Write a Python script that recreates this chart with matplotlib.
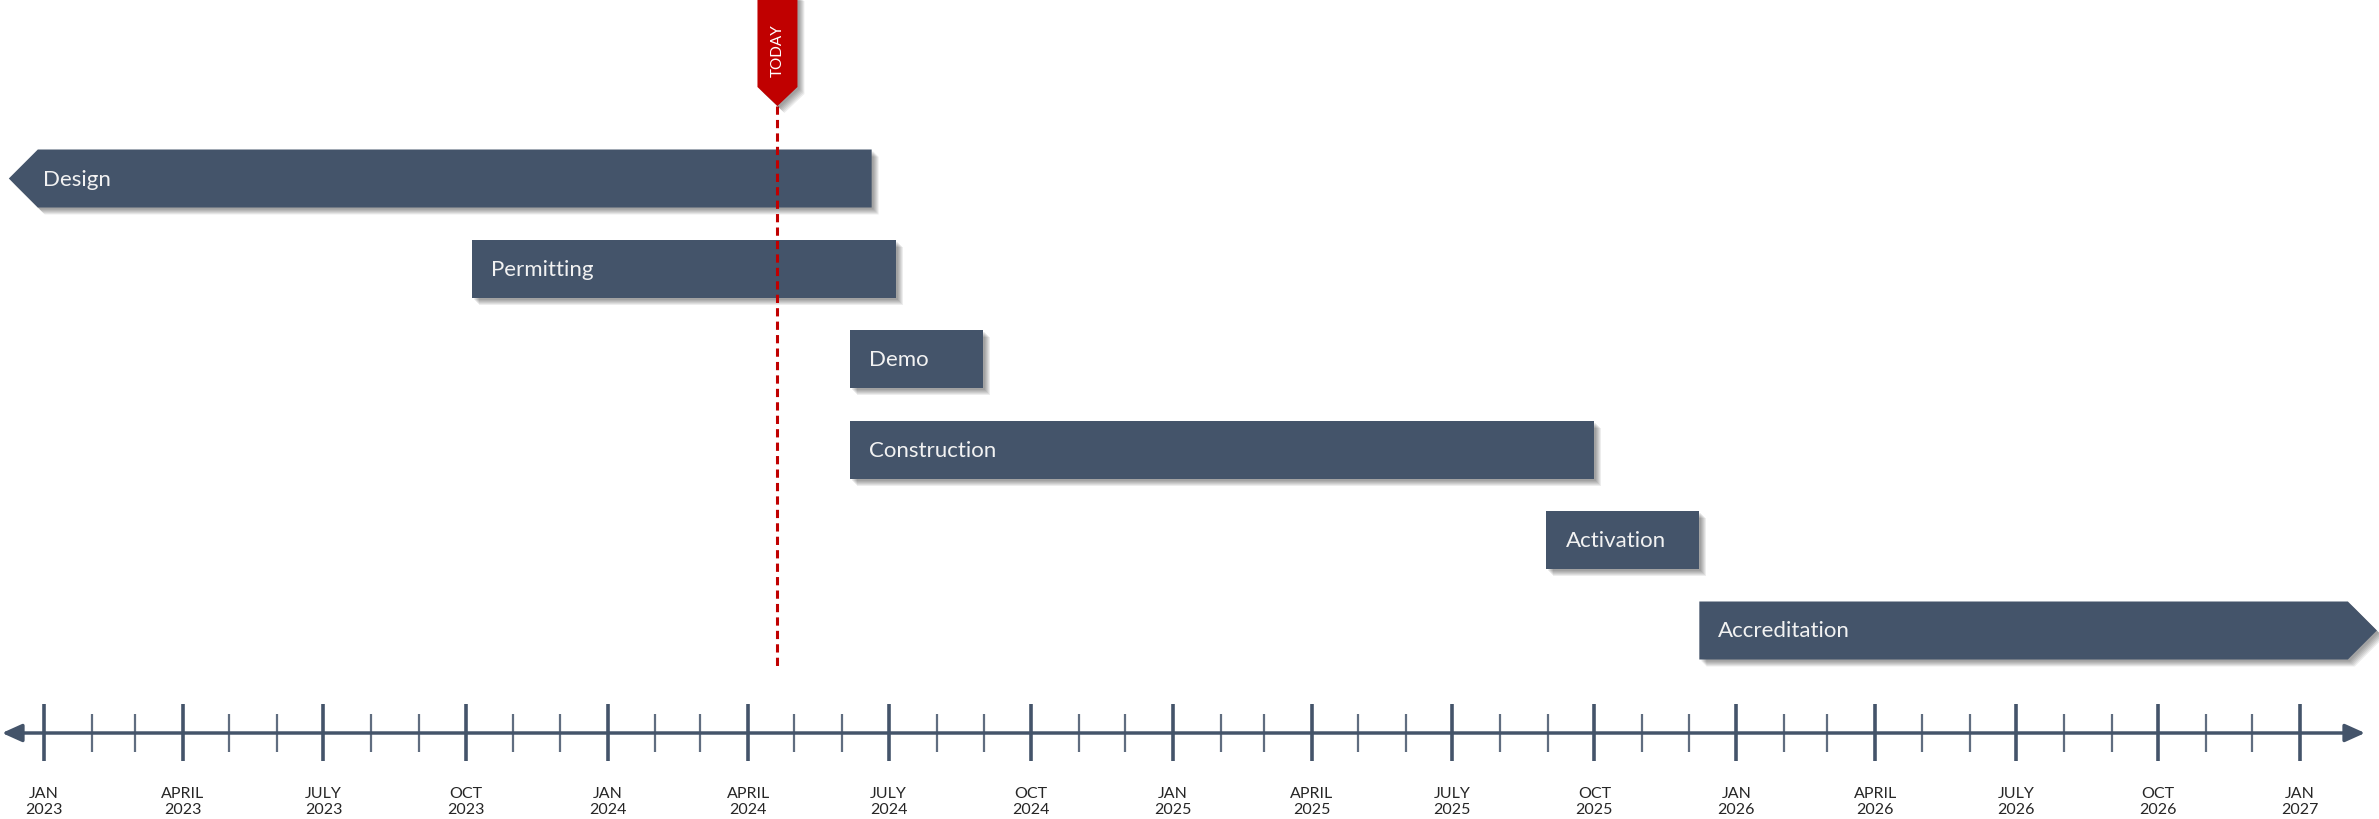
import matplotlib
matplotlib.use("Agg")
import matplotlib.pyplot as plt
import matplotlib.dates as mdates
import pandas as pd
from matplotlib.patches import Polygon, FancyArrowPatch
from matplotlib import transforms

plt.rcParams['font.family'] = ['Lato', 'DejaVu Sans']

# data
tasks = ['Design', 'Permitting', 'Demo', 'Construction', 'Activation', 'Accreditation']
starts = ['2022-12-28', '2023-10-05', '2024-06-06', '2024-06-06', '2025-08-31', '2025-12-08']
ends = ['2024-06-20', '2024-07-06', '2024-08-31', '2025-10-01', '2025-12-08', '2027-02-01']
arrows = ['left', None, None, None, None, 'right']
today = '2024-04-20'
month_names = {1: 'JAN', 4: 'APRIL', 7: 'JULY', 10: 'OCT'}
months = pd.date_range('2023-01-01', '2027-01-01', freq='MS')

BAR = '#44546A'
RED = '#C00000'

fig = plt.figure(figsize=(23.79, 8.2), dpi=100)
ax = fig.add_axes([0, 0, 1, 1])

x0 = mdates.date2num(pd.Timestamp('2023-01-01'))
x1 = mdates.date2num(pd.Timestamp('2027-01-01'))
ppd = 2256 / (x1 - x0)  # pixels per day
ax.set_xlim(x0 - 44 / ppd, x1 + 79 / ppd)
ax.set_ylim(820, 0)
ax.axis('off')


def shadow_poly(verts, z):
    for i, off in enumerate([2, 3, 4, 5, 6, 7]):
        tr = ax.transData + transforms.ScaledTranslation(off / 100, -off / 100, fig.dpi_scale_trans)
        ax.add_patch(Polygon(verts, closed=True, facecolor='#000000', edgecolor='none',
                             alpha=0.07, transform=tr, zorder=z - 0.5))


row_y = [179.5 + 90.4 * i for i in range(len(tasks))]
h = 58
tip = 29 / ppd
for name, s, e, arr, y in zip(tasks, starts, ends, arrows, row_y):
    s = mdates.date2num(pd.Timestamp(s))
    e = mdates.date2num(pd.Timestamp(e))
    top, bot = y - h / 2, y + h / 2
    if arr == 'left':
        verts = [(s - tip, y), (s, top), (e, top), (e, bot), (s, bot)]
        tx = s - tip + 34 / ppd
    elif arr == 'right':
        verts = [(s, top), (e, top), (e + tip, y), (e, bot), (s, bot)]
        tx = s + 19 / ppd
    else:
        verts = [(s, top), (e, top), (e, bot), (s, bot)]
        tx = s + 19 / ppd
    shadow_poly(verts, 3)
    ax.add_patch(Polygon(verts, closed=True, facecolor=BAR, edgecolor='none', zorder=3))
    ax.text(tx, y, name, color='#F2F2F2', fontsize=16, va='center', ha='left', zorder=4)

# today marker
t = mdates.date2num(pd.Timestamp(today))
hw = 20 / ppd
flag = [(t - hw, -5), (t + hw, -5), (t + hw, 88), (t, 107), (t - hw, 88)]
shadow_poly(flag, 6)
ax.add_patch(Polygon(flag, closed=True, facecolor=RED, edgecolor='none', zorder=6))
ax.text(t, 51, 'TODAY', rotation=90, color='white', fontsize=11, ha='center', va='center', zorder=7)
ax.plot([t, t], [107, 668], color=RED, lw=2.2, dashes=(2.7, 1.7), zorder=5)

# timeline axis
ax_y = 734
ax.add_patch(FancyArrowPatch((x0 - 42 / ppd, ax_y), (x1 + 65 / ppd, ax_y),
                             arrowstyle='<|-|>,head_length=1.0,head_width=0.45',
                             mutation_scale=12, lw=2.5, color=BAR, shrinkA=0, shrinkB=0, zorder=2))
for m in months:
    xm = mdates.date2num(m)
    if m.month in month_names:
        ax.vlines(xm, 705, 762, color=BAR, lw=2.6, zorder=2)
        ax.text(xm, 802, '%s\n%d' % (month_names[m.month], m.year), ha='center', va='center',
                fontsize=11.5, color='#262626', linespacing=1.2)
    else:
        ax.vlines(xm, 715, 753, color=BAR, lw=1.6, alpha=0.85, zorder=2)

fig.savefig('out.png', dpi=100)
